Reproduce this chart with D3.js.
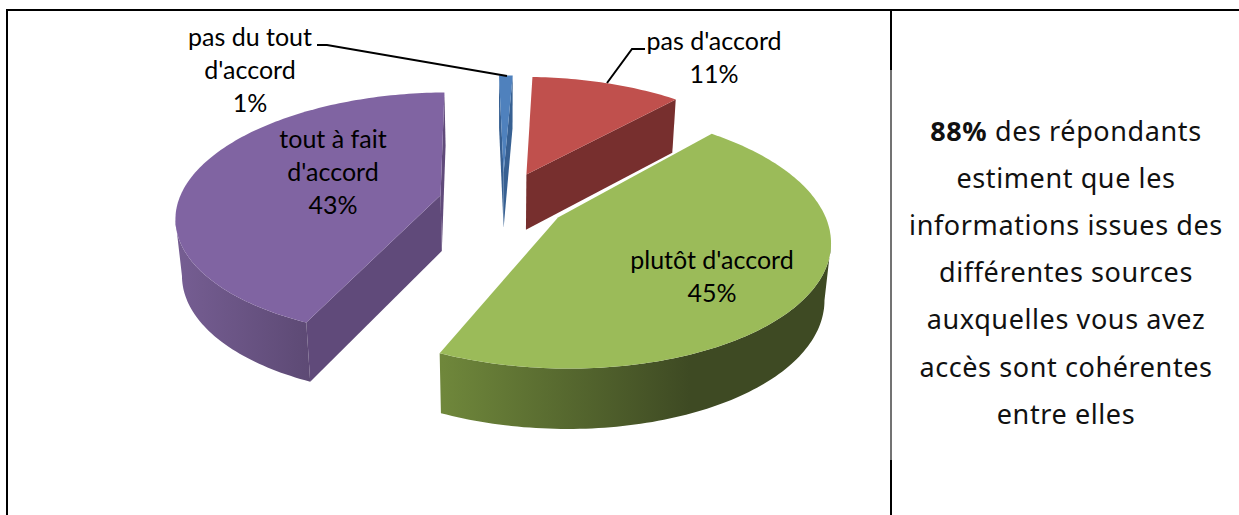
<!DOCTYPE html>
<html>
<head>
<meta charset="utf-8">
<script src="https://cdn.jsdelivr.net/npm/d3@7/dist/d3.min.js"></script>
<style>
  html, body { margin: 0; padding: 0; background: #fff; overflow: hidden; }
  text { fill: #000; }
  .lbl { font-family: Lato, sans-serif; font-size: 25px; }
  .note { font-family: "Noto Sans", sans-serif; font-size: 27px; letter-spacing: 0.6px; fill: #111; }
</style>
</head>
<body>
<svg id="chart" width="1239" height="515"></svg>
<script>
var categories = ["pas du tout d'accord", "pas d'accord", "plutôt d'accord", "tout à fait d'accord"];
var shares = [1, 11, 45, 43];
var topColors = ["#4f81bd", "#c0504d", "#9bbb59", "#8064a2"];
var wallColors = ["#376092", "#772f2e", "#5f7530", "#604a7a"];
var noteLines = ["des répondants", "estiment que les", "informations issues des", "différentes sources", "auxquelles vous avez", "accès sont cohérentes", "entre elles"];
var noteBold = "88%";

var svg = d3.select("#chart");

// table lines
var border = svg.append("g").attr("stroke", "#000");
border.append("line").attr("x1", 6).attr("x2", 1239).attr("y1", 10).attr("y2", 10).attr("stroke-width", 2);
border.append("line").attr("x1", 7).attr("x2", 7).attr("y1", 10).attr("y2", 515).attr("stroke-width", 2);
border.append("line").attr("x1", 891).attr("x2", 891).attr("y1", 10).attr("y2", 70).attr("stroke-width", 2);
border.append("line").attr("x1", 891).attr("x2", 891).attr("y1", 70).attr("y2", 460).attr("stroke-width", 1.5).attr("stroke", "#444");
border.append("line").attr("x1", 891).attr("x2", 891).attr("y1", 460).attr("y2", 515).attr("stroke-width", 2);

// pie projected in perspective
var cx = 503, cy = 201, A = 262, B = 121, k = 0.16, explode = 0.245;
var rotation = -1.2 * Math.PI / 180;

function project(X, Y) {
  var s = 1 / (1 + k * Y);
  return [cx + A * X * s, cy - B * Y * s, s];
}
function dropped(p) {
  // same point on the underside of the pie
  return [cx + (p[0] - cx) * 0.98, p[1] + 36 + 20 * p[2]];
}

var arcs = d3.pie().sort(null).startAngle(rotation).endAngle(rotation + 2 * Math.PI)(shares);

var slices = arcs.map(function(a, i) {
  var mid = (a.startAngle + a.endAngle) / 2;
  var ax = explode * Math.sin(mid), ay = explode * Math.cos(mid);
  var n = Math.max(2, Math.ceil((a.endAngle - a.startAngle) / 0.02));
  var rim = d3.range(n + 1).map(function(j) {
    var t = a.startAngle + (a.endAngle - a.startAngle) * j / n;
    return project(ax + Math.sin(t), ay + Math.cos(t));
  });
  return { i: i, apex: project(ax, ay), rim: rim };
});

// walls that can be seen: edges running right to left on a clockwise face
function wall(pts) {
  return pts.concat(pts.slice().reverse().map(dropped));
}
var line = d3.line().x(function(d) { return d[0]; }).y(function(d) { return d[1]; });

var defs = svg.append("defs");
var rimShade = {
  2: { x1: 442, x2: 690, from: "#6f873b", to: "#3e4a23" },
  3: { x1: 175, x2: 320, from: "#765e93", to: "#5b4872" },
  0: { x1: 500, x2: 510, from: "#376092", to: "#376092" },
  1: { x1: 500, x2: 700, from: "#772f2e", to: "#772f2e" }
};
d3.range(4).forEach(function(i) {
  var g = defs.append("linearGradient").attr("id", "rim" + i)
    .attr("gradientUnits", "userSpaceOnUse")
    .attr("x1", rimShade[i].x1).attr("x2", rimShade[i].x2).attr("y1", 0).attr("y2", 0);
  g.append("stop").attr("offset", 0).attr("stop-color", rimShade[i].from);
  g.append("stop").attr("offset", 1).attr("stop-color", rimShade[i].to);
});

var pie = svg.append("g");
[0, 1, 3, 2].forEach(function(i) {
  var sl = slices[i], g = pie.append("g");
  var first = sl.rim[0], last = sl.rim[sl.rim.length - 1];
  if (sl.apex[0] > first[0]) {
    g.append("path").attr("d", line(wall([sl.apex, first])) + "Z").attr("fill", wallColors[i]);
  }
  if (last[0] > sl.apex[0]) {
    g.append("path").attr("d", line(wall([last, sl.apex])) + "Z").attr("fill", wallColors[i]);
  }
  var front = sl.rim.filter(function(p, j) {
    return (j > 0 && p[0] < sl.rim[j - 1][0]) || (j < sl.rim.length - 1 && sl.rim[j + 1][0] < p[0]);
  });
  if (front.length > 1) {
    g.append("path").attr("d", line(wall(front)) + "Z").attr("fill", "url(#rim" + i + ")");
  }
  g.append("path").attr("d", line([sl.apex].concat(sl.rim)) + "Z").attr("fill", topColors[i]);
});

// leader lines
var leaders = svg.append("g").attr("fill", "none").attr("stroke", "#000").attr("stroke-width", 2);
leaders.append("polyline").attr("points", "317,45 327,45 507,76");
leaders.append("polyline").attr("points", "607,83 632,49 645,49");

// data labels
var labels = [
  { lines: ["pas du tout", "d'accord"], x: 250, y: 46, share: 0 },
  { lines: ["pas d'accord"], x: 714, y: 50, share: 1 },
  { lines: ["plutôt d'accord"], x: 712, y: 269, share: 2 },
  { lines: ["tout à fait", "d'accord"], x: 333, y: 148, share: 3 }
];
labels.forEach(function(l) {
  var t = svg.append("text").attr("class", "lbl").attr("text-anchor", "middle").attr("y", l.y);
  l.lines.concat([shares[l.share] + "%"]).forEach(function(s, j) {
    t.append("tspan").attr("x", l.x).attr("dy", j ? 33 : 0).text(s);
  });
});

// side note
var note = svg.append("text").attr("class", "note").attr("text-anchor", "middle").attr("y", 141);
noteLines.forEach(function(s, j) {
  var ts = note.append("tspan").attr("x", 1066).attr("dy", j ? 47.1 : 0);
  if (j === 0) {
    ts.append("tspan").attr("font-weight", "bold").text(noteBold + " ");
  }
  ts.append("tspan").text(s);
});
</script>
</body>
</html>
